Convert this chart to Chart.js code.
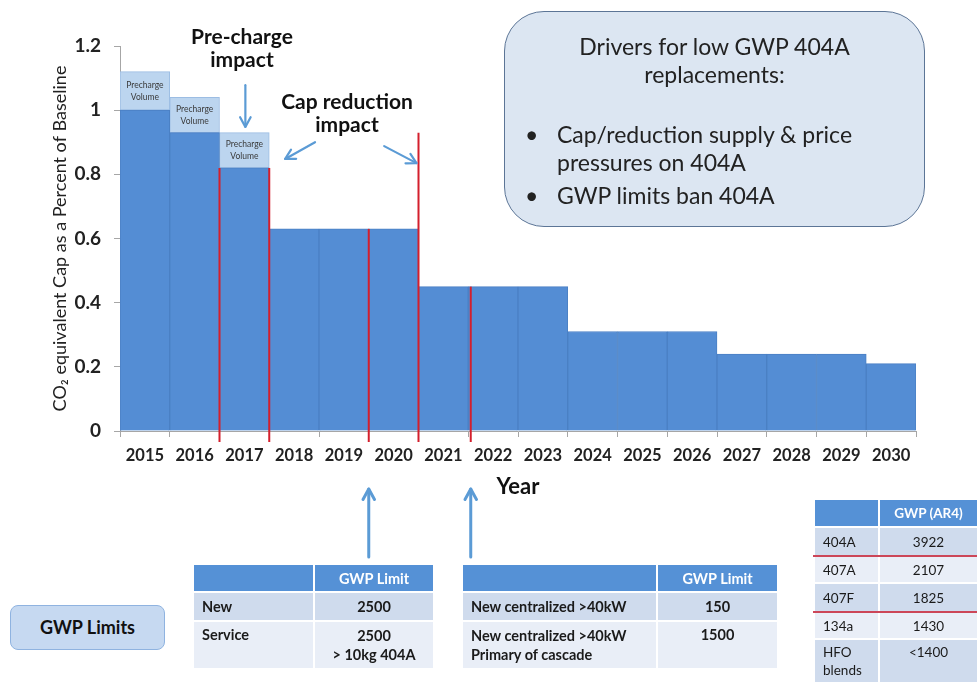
<!DOCTYPE html>
<html><head><meta charset="utf-8">
<script src="https://cdn.jsdelivr.net/npm/chart.js@4.4.1/dist/chart.umd.min.js"></script>
<style>
html,body{margin:0;padding:0;background:#fff;}
#wrap{position:relative;width:977px;height:682px;overflow:hidden;font-family:Lato,'Open Sans',sans-serif;}
#c{position:absolute;left:0;top:0;}
.ann{position:absolute;font-weight:bold;font-size:21px;color:#111;text-align:center;line-height:23px;white-space:nowrap;}
.drivers{position:absolute;left:504px;top:11px;width:421px;height:216px;box-sizing:border-box;background:#dce6f2;border:1.5px solid #5c7596;border-radius:40px;color:#222;font-size:23px;}
.drivers .h{position:absolute;left:0;right:0;top:20px;text-align:center;line-height:28px;}
.drivers ul{position:absolute;left:14px;top:108px;margin:0;padding:0;list-style:none;line-height:28px;white-space:nowrap;}
.drivers li{position:relative;padding-left:38px;}
.drivers li+li{margin-top:5px;}
.drivers li:before{content:'•';position:absolute;left:6px;}
.gwpbox{position:absolute;left:10px;top:605px;width:155px;height:45px;box-sizing:border-box;background:#c6d9f1;border:1px solid #8fb3e0;border-radius:8px;font-weight:bold;font-size:18px;color:#111;text-align:center;line-height:43px;}
table{position:absolute;border-collapse:collapse;font-size:14.5px;color:#1a1a1a;}
td{border:2px solid #fff;padding:0 8px;box-sizing:border-box;vertical-align:middle;white-space:nowrap;}
tr.hd td{background:#5591d6;color:#fff;font-weight:bold;text-align:center;}
tr.dk td{background:#cfdbed;}
tr.lt td{background:#e9eef7;}
td.c{text-align:center;}
.t1,.t2{font-weight:bold;}
.t3{font-size:13.5px;}
tr.red td{border-bottom:2px solid #cc4658;}
</style>
</head><body>
<div id="wrap">
<canvas id="c" width="977" height="682"></canvas>
<div class="ann" style="left:172px;top:24px;width:140px;">Pre-charge<br>impact</div>
<div class="ann" style="left:262px;top:89px;width:170px;">Cap reduction<br>impact</div>
<div class="drivers">
  <div class="h">Drivers for low GWP 404A<br>replacements:</div>
  <ul><li>Cap/reduction supply &amp; price<br>pressures on 404A</li><li>GWP limits ban 404A</li></ul>
</div>
<div class="gwpbox">GWP Limits</div>
<table class="t1" style="left:192px;top:563px;width:243px;">
  <tr class="hd" style="height:28px;"><td style="width:121px;"></td><td>GWP Limit</td></tr>
  <tr class="dk" style="height:29px;"><td>New</td><td class="c">2500</td></tr>
  <tr class="lt" style="height:48px;"><td style="vertical-align:top;padding-top:4px;">Service</td><td class="c" style="line-height:19px;">2500<br>&gt; 10kg 404A</td></tr>
</table>
<table class="t2" style="left:461px;top:563px;width:318px;">
  <tr class="hd" style="height:28px;"><td style="width:195px;"></td><td>GWP Limit</td></tr>
  <tr class="dk" style="height:29px;"><td>New centralized &gt;40kW</td><td class="c">150</td></tr>
  <tr class="lt" style="height:48px;"><td style="line-height:19px;">New centralized &gt;40kW<br>Primary of cascade</td><td class="c" style="vertical-align:top;padding-top:4px;">1500</td></tr>
</table>
<table class="t3" style="left:813px;top:498px;width:166px;">
  <tr class="hd" style="height:28px;"><td style="width:65px;"></td><td>GWP (AR4)</td></tr>
  <tr class="dk red" style="height:29px;"><td>404A</td><td class="c">3922</td></tr>
  <tr class="lt" style="height:27px;"><td>407A</td><td class="c">2107</td></tr>
  <tr class="dk red" style="height:29px;"><td>407F</td><td class="c">1825</td></tr>
  <tr class="lt" style="height:27px;"><td>134a</td><td class="c">1430</td></tr>
  <tr class="dk" style="height:44px;"><td style="line-height:18px;">HFO<br>blends</td><td class="c" style="vertical-align:top;padding-top:4px;">&lt;1400</td></tr>
</table>
</div>
<script>
// ---- data ----
const years = ['2015','2016','2017','2018','2019','2020','2021','2022','2023','2024','2025','2026','2027','2028','2029','2030'];
const capValues = [1.00,0.93,0.82,0.63,0.63,0.63,0.45,0.45,0.45,0.31,0.31,0.31,0.24,0.24,0.24,0.21];
const prechargeValues = [0.12,0.11,0.11,null,null,null,null,null,null,null,null,null,null,null,null,null];
const yTicks = [0,0.2,0.4,0.6,0.8,1,1.2];
const yTickLabels = ['0','0.2','0.4','0.6','0.8','1','1.2'];
// red markers: position between categories (index units) and top value
const redMarkerAt = [1.5,2.5,4.5,5.5,6.55];
const redMarkerTop = [0.82,0.82,0.63,0.93,0.45];
// GWP-limit arrows point up at these category positions
const gwpArrowAt = [4.5,6.55];

const FONT = "Lato, 'Open Sans', sans-serif";

function arrow(ctx,x1,y1,x2,y2,len,w,color){
  const a = Math.atan2(y2-y1,x2-x1);
  ctx.save();
  ctx.strokeStyle=color; ctx.lineWidth=w; ctx.lineCap='round'; ctx.lineJoin='round';
  ctx.beginPath(); ctx.moveTo(x1,y1); ctx.lineTo(x2,y2); ctx.stroke();
  ctx.beginPath();
  ctx.moveTo(x2-len*Math.cos(a-0.5), y2-len*Math.sin(a-0.5));
  ctx.lineTo(x2,y2);
  ctx.lineTo(x2-len*Math.cos(a+0.5), y2-len*Math.sin(a+0.5));
  ctx.stroke();
  ctx.restore();
}

const overlay = {
  id:'overlay',
  afterDatasetsDraw(chart){
    const {ctx, scales:{x,y}, chartArea} = chart;
    const meta = chart.getDatasetMeta(1);
    ctx.save();
    ctx.fillStyle='#3a3a3a'; ctx.font='8.5px '+FONT; ctx.textAlign='center'; ctx.textBaseline='middle';
    meta.data.forEach((bar,i)=>{
      if(prechargeValues[i]==null) return;
      const cy=(bar.y+bar.base)/2;
      ctx.fillText('Precharge',bar.x,cy-6);
      ctx.fillText('Volume',bar.x,cy+6);
    });
    ctx.restore();
    ctx.save();
    ctx.strokeStyle='#d41f2c'; ctx.lineWidth=2;
    redMarkerAt.forEach((p,i)=>{
      const px=x.getPixelForValue(p);
      ctx.beginPath(); ctx.moveTo(px,y.getPixelForValue(redMarkerTop[i])); ctx.lineTo(px,chartArea.bottom+11); ctx.stroke();
    });
    ctx.restore();
    const blue='#5b9bd5';
    arrow(ctx,x.getPixelForValue(2.02),y.getPixelForValue(1.078),x.getPixelForValue(2.02),y.getPixelForValue(0.948),11,2.2,blue);
    arrow(ctx,x.getPixelForValue(3.42),y.getPixelForValue(0.90),x.getPixelForValue(2.82),y.getPixelForValue(0.848),11,2.2,blue);
    arrow(ctx,x.getPixelForValue(4.81),y.getPixelForValue(0.888),x.getPixelForValue(5.46),y.getPixelForValue(0.835),11,2.2,blue);
    gwpArrowAt.forEach(p=>{
      const px=x.getPixelForValue(p);
      arrow(ctx,px,chartArea.bottom+126,px,chartArea.bottom+58,12,3,blue);
    });
  }
};

new Chart(document.getElementById('c'),{
  type:'bar',
  data:{
    labels:years,
    datasets:[
      {label:'Cap',data:capValues,backgroundColor:'#548dd4',borderColor:'#4b80c4',borderWidth:1,borderSkipped:'start',categoryPercentage:1,barPercentage:1},
      {label:'Precharge Volume',data:prechargeValues,backgroundColor:'#bcd5ef',borderColor:'#9cbde3',borderWidth:1,borderSkipped:false,categoryPercentage:1,barPercentage:1}
    ]
  },
  options:{
    responsive:false,
    animation:false,
    devicePixelRatio:1,
    layout:{padding:{left:0,top:46,right:61,bottom:181}},
    plugins:{legend:{display:false},tooltip:{enabled:false}},
    scales:{
      x:{
        stacked:true,
        grid:{display:true,offset:true,drawOnChartArea:false,drawTicks:true,tickLength:6,color:'#a6a6a6'},
        border:{display:true,color:'#a6a6a6'},
        ticks:{font:{family:FONT,size:16.5,weight:'bold'},color:'#222',padding:9,maxRotation:0,autoSkip:false},
        title:{display:true,text:'Year',font:{family:FONT,size:22,weight:'bold'},color:'#111',padding:{top:0,bottom:1}},
        afterFit(s){s.height=70;}
      },
      y:{
        stacked:true,min:0,max:1.2,
        afterBuildTicks(s){s.ticks=yTicks.map(v=>({value:v}));},
        ticks:{callback:(v)=>yTickLabels[yTicks.indexOf(v)],font:{family:FONT,size:19,weight:'bold'},color:'#222',padding:13},
        grid:{drawOnChartArea:false,drawTicks:true,tickLength:6,color:'#a6a6a6'},
        border:{display:true,color:'#a6a6a6'},
        title:{display:true,text:'CO₂ equivalent Cap as a Percent of Baseline',font:{family:FONT,size:18},color:'#222',padding:{top:49,bottom:0}},
        afterFit(s){s.width=120;}
      }
    }
  },
  plugins:[overlay]
});
</script>
</body></html>
